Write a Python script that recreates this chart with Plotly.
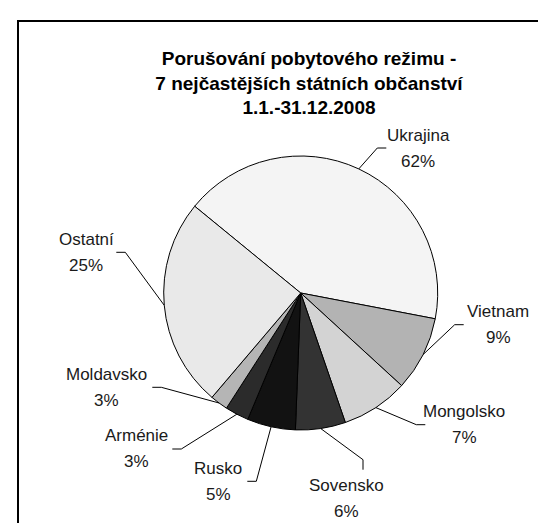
import math
import plotly.graph_objects as go

# ---- data ----
categories = ["Ukrajina", "Vietnam", "Mongolsko", "Sovensko", "Rusko", "Arménie", "Moldavsko", "Ostatní"]
values = [42.1, 8.8, 7.9, 5.9, 5.7, 2.8, 2.1, 24.7]          # drawn slice sizes
shown_pct = ["62%", "9%", "7%", "6%", "5%", "3%", "3%", "25%"]  # labels as printed
title_lines = ["Porušování pobytového režimu -", "7 nejčastějších státních občanství", "1.1.-31.12.2008"]

# ---- style / layout ----
colors = ["#f4f4f4", "#b3b3b3", "#d3d3d3", "#333333", "#121212", "#2b2b2b", "#b5b5b5", "#e9e9e9"]
W, H = 546, 523
CX, CY, R = 292.7, 285.0, 137.0
START = 309.3  # degrees clockwise from 12 o'clock where first slice begins

# label centres and leader-line elbows (pixel positions)
label_centers = [(410, 140), (490, 316), (456, 416.5), (338, 490.5), (210, 473.5), (128, 440), (98, 379), (78, 244.3)]
elbows = [(369.3, 140), (446.7, 316.7), (408.3, 416.7), (355, 451.7), (248.3, 473.3), (173.3, 441), (153.3, 379.3), (117.3, 244.3)]

def px(x):
    return x / W

def py(y):
    return 1 - y / H

fig = go.Figure(go.Pie(
    labels=categories,
    values=values,
    sort=False,
    direction="clockwise",
    rotation=START - 360,
    marker=dict(colors=colors, line=dict(color="#000000", width=1)),
    textinfo="none",
    hoverinfo="label+percent",
    showlegend=False,
    domain=dict(x=[px(CX - R), px(CX + R)], y=[py(CY + R), py(CY - R)]),
))

shapes = []
annotations = []
total = sum(values)
cum = 0.0
for i, (name, v) in enumerate(zip(categories, values)):
    mid = START + (cum + v / 2) / total * 360
    cum += v
    th = math.radians(mid)
    sx, sy = CX + R * math.sin(th), CY - R * math.cos(th)
    bx, by = elbows[i]
    lx, ly = label_centers[i]
    if abs(lx - bx) > abs(ly - by):
        ex, ey = bx + (9 if lx > bx else -9), by
    else:
        ex, ey = bx, by + (10 if ly > by else -10)
    shapes.append(dict(
        type="path", xref="paper", yref="paper",
        path=f"M {px(sx)},{py(sy)} L {px(bx)},{py(by)} L {px(ex)},{py(ey)}",
        line=dict(color="#000000", width=1),
    ))
    annotations.append(dict(x=px(lx), y=py(ly - 13), xref="paper", yref="paper",
                            text=name, showarrow=False, xanchor="center", yanchor="middle",
                            font=dict(family="Liberation Sans, Arial, sans-serif", size=17, color="#1a1a1a")))
    annotations.append(dict(x=px(lx), y=py(ly + 13), xref="paper", yref="paper",
                            text=shown_pct[i], showarrow=False, xanchor="center", yanchor="middle",
                            font=dict(family="Liberation Sans, Arial, sans-serif", size=17, color="#1a1a1a")))

# outer frame
shapes.append(dict(type="rect", xref="paper", yref="paper",
                   x0=px(10), y0=py(535), x1=px(543), y1=py(13),
                   line=dict(color="#000000", width=2)))

fig.update_layout(
    width=W, height=H,
    margin=dict(l=0, r=0, t=0, b=0),
    paper_bgcolor="#ffffff",
    plot_bgcolor="#ffffff",
    title=dict(
        text="<b>" + "<br>".join(title_lines) + "</b>",
        x=px(301), xanchor="center",
        y=py(57), yanchor="middle", yref="paper",
        font=dict(family="Liberation Sans, Arial, sans-serif", size=19, color="#000000"),
    ),
    shapes=shapes,
    annotations=annotations,
)

fig.write_html("out.html")
